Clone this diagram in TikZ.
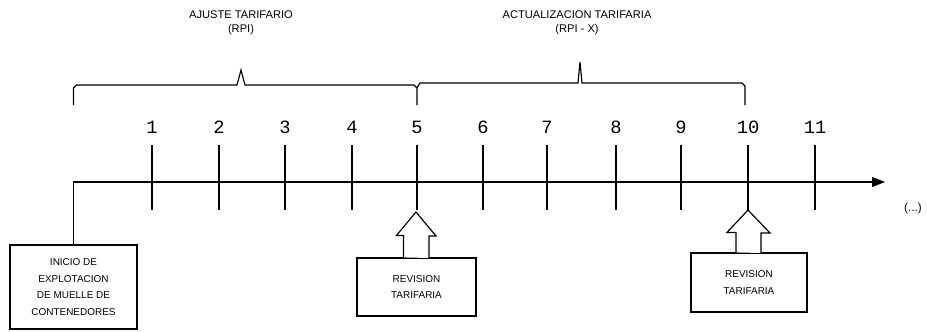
\documentclass[tikz,border=0pt]{standalone}
\usepackage{fontspec}
\setmainfont{Liberation Sans}
\newfontfamily\numfont{Liberation Mono}
\usepackage{tikz}
\usetikzlibrary{arrows.meta, positioning}

\begin{document}
\begin{tikzpicture}[
    x=0.03cm, y=-0.03cm,
    axis/.style={line width=1pt, -{Triangle[length=3.9mm, width=3mm]}},
    tck/.style={line width=1pt},
    num/.style={font=\numfont\fontsize{16}{16}\selectfont, inner sep=0pt},
    hdr/.style={font=\fontsize{9.5}{12}\selectfont, align=center, inner sep=0pt},
    box/.style={draw, line width=1pt, align=center, inner sep=0pt,
                font=\fontsize{8.5}{14}\selectfont},
    brc/.style={line width=1pt},
    barr/.style={draw, line width=1pt, line join=miter, fill=white},
  ]
    \useasboundingbox (0,0) rectangle (927,331);

    % === Start box and axis origin ===
    \node[box, minimum width=127*0.03cm, minimum height=84*0.03cm] (ini) at (73.5,287)
      {INICIO DE\\EXPLOTACION\\DE MUELLE DE\\CONTENEDORES};
    \coordinate (o) at (ini.north |- 0,182);
    \coordinate (end) at (885,182);

    % === Time axis ===
    \draw[axis] (ini.north) -- (o) -- (end);

    % === Year ticks ===
    \coordinate (t1) at (152,182);
    \coordinate (t2) at (219,182);
    \coordinate (t3) at (285,182);
    \coordinate (t4) at (352,182);
    \coordinate (t5) at (417,182);
    \coordinate (t6) at (483,182);
    \coordinate (t7) at (547,182);
    \coordinate (t8) at (616,182);
    \coordinate (t9) at (681,182);
    \coordinate (t10) at (748,182);
    \coordinate (t11) at (815,182);
    \draw[tck] (t1) ++(0,-37) -- ++(0,65);
    \draw[tck] (t2) ++(0,-37) -- ++(0,65);
    \draw[tck] (t3) ++(0,-37) -- ++(0,65);
    \draw[tck] (t4) ++(0,-37) -- ++(0,65);
    \draw[tck] (t5) ++(0,-37) -- ++(0,65);
    \draw[tck] (t6) ++(0,-37) -- ++(0,65);
    \draw[tck] (t7) ++(0,-37) -- ++(0,65);
    \draw[tck] (t8) ++(0,-37) -- ++(0,65);
    \draw[tck] (t9) ++(0,-37) -- ++(0,65);
    \draw[tck] (t10) ++(0,-37) -- ++(0,65);
    \draw[tck] (t11) ++(0,-37) -- ++(0,65);

    % Year numbers
    \node[num] (n1) at (152,127) {1};
    \node[num] (n2) at (219,127) {2};
    \node[num] (n3) at (285,127) {3};
    \node[num] (n4) at (352,127) {4};
    \node[num] (n5) at (417,127) {5};
    \node[num] (n6) at (483,127) {6};
    \node[num] (n7) at (547,127) {7};
    \node[num] (n8) at (616,127) {8};
    \node[num] (n9) at (681,127) {9};
    \node[num] (n10) at (748,127) {10};
    \node[num] (n11) at (815,127) {11};
    \node[font=\fontsize{10}{10}\selectfont] (etc) at (913,208) {(...)};

    % === Periods (braces) ===
    \node[hdr] (aj) at (241,23) {AJUSTE TARIFARIO\\(RPI)};
    \node[hdr] (ac) at (577,23) {ACTUALIZACION TARIFARIA\\(RPI - X)};
    \coordinate (p1) at (241,70);
    \coordinate (p2) at (580,62);
    \draw[brc] (o |- 0,105) -- (o |- 0,88) -- ++(3,-3) -- ([xshift=-4*0.03cm]p1 |- 0,85)
      -- (p1) -- ([xshift=4*0.03cm]p1 |- 0,85)
      -- ([xshift=-3*0.03cm]t5 |- 0,85) -- (t5 |- 0,88) -- (t5 |- 0,105);
    \draw[brc] (t5 |- 0,88) -- ++(3,-5) -- ([xshift=-2*0.03cm]p2 |- 0,83)
      -- (p2) -- ([xshift=2*0.03cm]p2 |- 0,83) -- (742,83) -- (745,86) -- (745,105);

    % === Tariff reviews ===
    \node[box, minimum width=119*0.03cm, minimum height=58*0.03cm] (rv1) at (416.5,287)
      {REVISION\\TARIFARIA};
    \node[box, minimum width=116*0.03cm, minimum height=59*0.03cm] (rv2) at (749,282.5)
      {REVISION\\TARIFARIA};

    % Block arrows up to the review years
    \draw[barr] (rv1.north) ++(-13,0) -- ++(0,-22) -- ++(-7,0) -- (416,212)
      -- (436,236) -- (429,236) -- (429,258);
    \draw[barr] (rv2.north) ++(-13,0) -- ++(0,-20) -- ++(-9,0) -- (748,210)
      -- (770,233) -- (761,233) -- (761,253);
  \end{tikzpicture}
\end{document}
